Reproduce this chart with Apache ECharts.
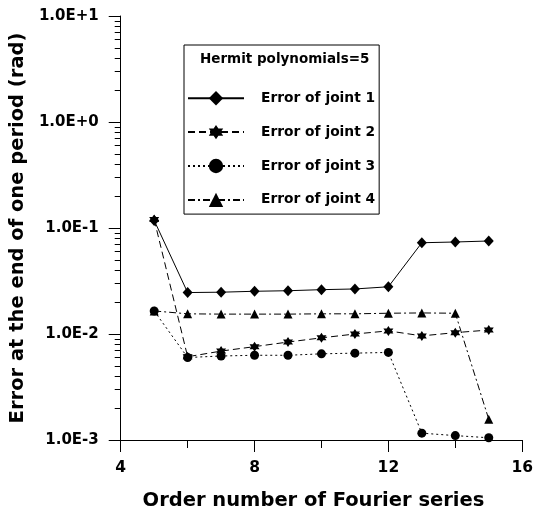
<!DOCTYPE html>
<html><head><meta charset="utf-8">
<script src="https://cdn.jsdelivr.net/npm/echarts@6/dist/echarts.min.js"></script>
<style>html,body{margin:0;padding:0;background:#fff}#c{width:536px;height:521px}</style>
</head><body><div id="c"></div>
<script>
const orders = [5, 6, 7, 8, 9, 10, 11, 12, 13, 14, 15];
const joint1 = [0.118, 0.0246, 0.0248, 0.0253, 0.0256, 0.0262, 0.0266, 0.0279, 0.0726, 0.0738, 0.0754];
const joint2 = [0.120, 0.0061, 0.0069, 0.0076, 0.0084, 0.0092, 0.0100, 0.0107, 0.0096, 0.0103, 0.0109];
const joint3 = [0.0165, 0.0060, 0.0062, 0.0063, 0.0063, 0.0065, 0.0066, 0.0067, 0.00116, 0.00110, 0.00105];
const joint4 = [0.0165, 0.0155, 0.0154, 0.0154, 0.0154, 0.0155, 0.0155, 0.0157, 0.0158, 0.0157, 0.00157];
const seriesNames = ['Error of joint 1', 'Error of joint 2', 'Error of joint 3', 'Error of joint 4'];
const legendTitle = 'Hermit polynomials=5';
const xTitle = 'Order number of Fourier series';
const yTitle = 'Error at the end of one period (rad)';

const FONT = '"DejaVu Sans", Verdana, sans-serif';
const starPath = 'path://M0,-10L2.887,-5L8.66,-5L5.774,0L8.66,5L2.887,5L0,10L-2.887,5L-8.66,5L-5.774,0L-8.66,-5L-2.887,-5Z';

function pairs(ys) { return orders.map((x, i) => [x, ys[i]]); }
function mk(name, ys, symbol, size, dash) {
  return {
    name: name, type: 'line', data: pairs(ys),
    symbol: symbol, symbolSize: size, z: 3,
    lineStyle: { color: '#000', width: 1, type: dash },
    itemStyle: { color: '#000' },
    emphasis: { disabled: true }, animation: false
  };
}
const chart = echarts.init(document.getElementById('c'), null, { renderer: 'canvas' });
chart.setOption({
  backgroundColor: '#fff',
  animation: false,
  grid: { left: 119, right: 10, top: 16, bottom: 81, containLabel: false },
  title: {
    text: legendTitle, left: 195, top: 47,
    textStyle: { fontFamily: FONT, fontWeight: 'bold', fontSize: 13.5, color: '#000' }
  },
  legend: {
    orient: 'vertical', left: 184, top: 45,
    padding: [46, 4, 7, 3],
    borderColor: '#000', borderWidth: 1,
    itemWidth: 56, itemHeight: 18, itemGap: 19.5,
    selectedMode: false,
    data: seriesNames,
    textStyle: { fontFamily: FONT, fontWeight: 'bold', fontSize: 13.8, color: '#000', padding: [0, 0, 0, 12] }
  },
  xAxis: {
    type: 'value', min: 4, max: 16, interval: 4,
    name: xTitle, nameLocation: 'middle', nameGap: 51,
    nameTextStyle: { fontFamily: FONT, fontWeight: 'bold', fontSize: 19.5, color: '#000', padding: [0, 16, 0, 0] },
    axisLine: { lineStyle: { color: '#000', width: 1 } },
    axisTick: { show: true, length: 12, lineStyle: { color: '#000' } },
    minorTick: { show: true, splitNumber: 2, length: 8, lineStyle: { color: '#000' } },
    splitLine: { show: false },
    axisLabel: { margin: 20, fontFamily: FONT, fontWeight: 'bold', fontSize: 15.5, color: '#000' }
  },
  yAxis: {
    type: 'log', logBase: 10, min: 0.001, max: 10,
    name: yTitle, nameLocation: 'middle', nameGap: 86, nameRotate: 90,
    nameTextStyle: { fontFamily: FONT, fontWeight: 'bold', fontSize: 19.5, color: '#000' },
    axisLine: { show: true, lineStyle: { color: '#000', width: 1 } },
    axisTick: { show: true, length: 12, lineStyle: { color: '#000' } },
    minorTick: { show: true, splitNumber: 9, length: 6, lineStyle: { color: '#000' } },
    splitLine: { show: false },
    axisLabel: {
      margin: 22, fontFamily: FONT, fontWeight: 'bold', fontSize: 15, color: '#000',
      formatter: function (v) {
        const e = Math.round(Math.log10(v));
        return '1.0E' + (e >= 0 ? '+' : '-') + Math.abs(e);
      }
    }
  },
  series: [
    mk(seriesNames[0], joint1, 'diamond', [10, 11], 'solid'),
    mk(seriesNames[1], joint2, starPath, 10, [7, 4]),
    mk(seriesNames[2], joint3, 'circle', 9, [2, 3]),
    mk(seriesNames[3], joint4, 'triangle', 9, [7, 3, 2, 3])
  ]
});
</script></body></html>
